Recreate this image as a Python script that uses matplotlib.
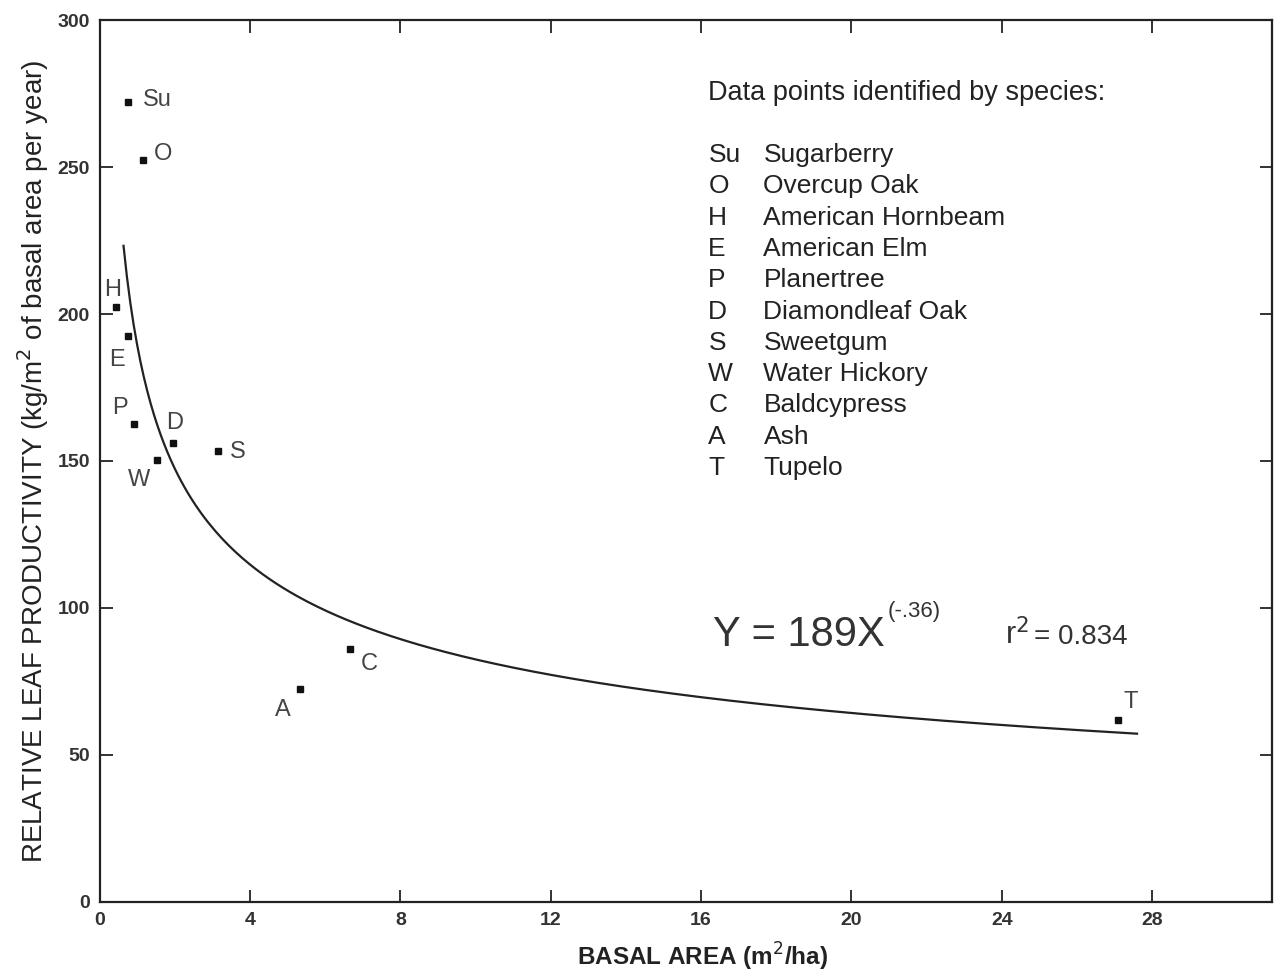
import numpy as np
import matplotlib
matplotlib.use("Agg")
import matplotlib.pyplot as plt

plt.rcParams['font.family'] = ['Liberation Sans', 'DejaVu Sans']

# species points
codes = ['Su', 'O', 'H', 'E', 'P', 'D', 'S', 'W', 'C', 'A', 'T']
basal_area = [0.74, 1.14, 0.42, 0.74, 0.9, 1.94, 3.14, 1.52, 6.65, 5.32, 27.1]
leaf_prod = [272, 252.5, 202.5, 192.5, 162.5, 156, 153.5, 150.5, 86, 72.5, 62]

species_codes = ['Su', 'O', 'H', 'E', 'P', 'D', 'S', 'W', 'C', 'A', 'T']
species_names = ['Sugarberry', 'Overcup Oak', 'American Hornbeam', 'American Elm',
                 'Planertree', 'Diamondleaf Oak', 'Sweetgum', 'Water Hickory',
                 'Baldcypress', 'Ash', 'Tupelo']

# fitted power curve shown on the chart: Y = 189 X^(-.36)
fit_a = 189
fit_b = -0.36
fit_x = np.linspace(0.63, 27.6, 300)

x_ticks = [0, 4, 8, 12, 16, 20, 24, 28]
y_ticks = [0, 50, 100, 150, 200, 250, 300]

# label offsets (points) and alignment per point
label_off = {'Su': (11, 2, 'left'), 'O': (8, 4, 'left'), 'H': (-2, 12, 'center'),
             'E': (-8, -17, 'center'), 'P': (-10, 12, 'center'), 'D': (1, 15, 'center'),
             'S': (9, -1, 'left'), 'W': (-13, -15, 'center'), 'A': (-12, -15, 'center'),
             'C': (14, -11, 'center'), 'T': (9, 13, 'center')}

fig = plt.figure(figsize=(12.8, 9.77), dpi=100)
ax = fig.add_axes([0.078, 0.0768, 0.916, 0.9027])

ax.plot(fit_x, fit_a * fit_x ** fit_b, color='#222222', lw=1.6)
ax.plot(basal_area, leaf_prod, 's', color='#111111', ms=4.5, ls='none')

for c, x, y in zip(codes, basal_area, leaf_prod):
    dx, dy, ha = label_off[c]
    ax.annotate(c, (x, y), xytext=(dx, dy), textcoords='offset points',
                ha=ha, va='center', fontsize=17, color='#444444')

ax.set_xlim(0, 31.2)
ax.set_ylim(0, 300)
ax.set_xticks(x_ticks)
ax.set_yticks(y_ticks)
ax.tick_params(direction='in', length=9, width=1.4, top=True, right=True,
               labelsize=14, colors='#333333', pad=7)
for lab in ax.get_xticklabels() + ax.get_yticklabels():
    lab.set_fontweight('bold')
for sp in ax.spines.values():
    sp.set_linewidth(1.6)
    sp.set_color('#222222')

ax.set_xlabel('BASAL AREA (m$^2$/ha)', fontsize=17.5, fontweight='bold', color='#222222',
              labelpad=9, x=0.514)
ax.set_ylabel('RELATIVE LEAF PRODUCTIVITY (kg/m$^2$ of basal area per year)', fontsize=20,
              color='#222222', labelpad=5)

# species key
ax.text(0.519, 0.917, 'Data points identified by species:', transform=ax.transAxes,
        fontsize=19.5, color='#222222', va='center', ha='left')
for i, (c, n) in enumerate(zip(species_codes, species_names)):
    yy = 0.847 - i * 0.0355
    ax.text(0.519, yy, c, transform=ax.transAxes, fontsize=19, color='#222222', va='center')
    ax.text(0.566, yy, n, transform=ax.transAxes, fontsize=19, color='#222222', va='center')

# equation
ax.text(0.523, 0.303, 'Y = 189X', transform=ax.transAxes, fontsize=30, color='#333333', va='center')
ax.text(0.672, 0.329, '(-.36)', transform=ax.transAxes, fontsize=16, color='#333333', va='center')
ax.text(0.772, 0.302, 'r$^2$', transform=ax.transAxes, fontsize=22, color='#333333', va='center')
ax.text(0.797, 0.300, '= 0.834', transform=ax.transAxes, fontsize=20, color='#333333', va='center')

fig.savefig('out.png', dpi=100)
